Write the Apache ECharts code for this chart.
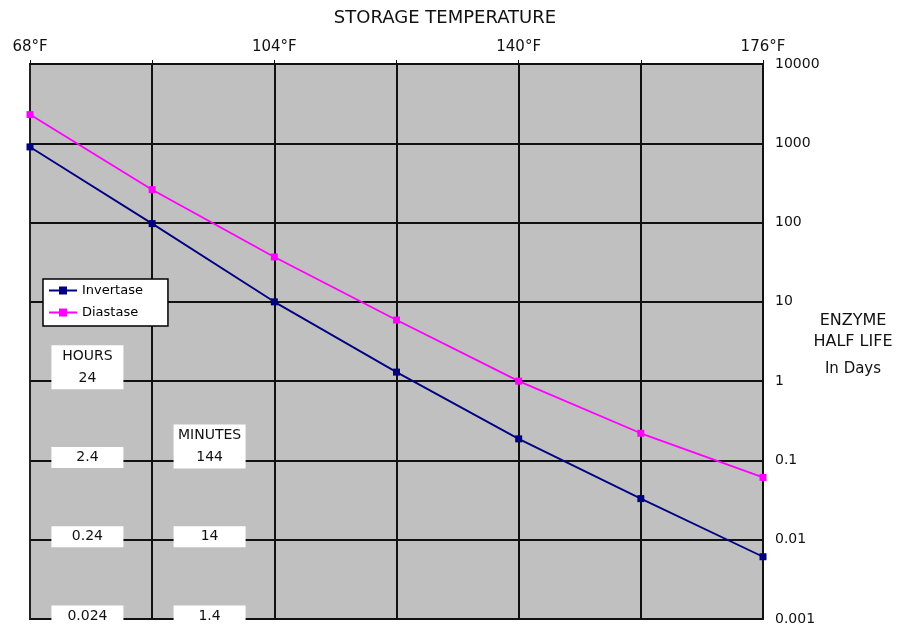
<!DOCTYPE html>
<html><head><meta charset="utf-8">
<script src="https://cdn.jsdelivr.net/npm/echarts@6/dist/echarts.min.js"></script>
<style>html,body{margin:0;padding:0;background:#fff}#c{width:907px;height:628px}</style>
</head><body><div id="c"></div>
<script>
// ---- data ----
const temperaturesF = [68, 86, 104, 122, 140, 158, 176];
const invertaseDays = [900, 97, 10, 1.3, 0.187, 0.033, 0.0061];
const diastaseDays = [2300, 260, 36.8, 5.9, 1.0, 0.22, 0.061];
const hoursLabels = ['HOURS\n24', '2.4', '0.24', '0.024'];
const hoursAtDays = [1, 0.1, 0.01, 0.001];
const minutesLabels = ['MINUTES\n144', '14', '1.4'];
const minutesAtDays = [0.1, 0.01, 0.001];
const annotationColumns = [0.47, 1.47]; // position in temperature steps

const FONT = 'DejaVu Sans';
const categories = temperaturesF.map(t => t + '°F');

function annot(col, labels, days) {
  return labels.map((txt, i) => {
    const lines = txt.split('\n').length;
    const lh = lines > 1 ? 22 : 21;
    return {
      name: txt,
      value: [col, days[i]],
      label: { lineHeight: lh, height: lh * lines, offset: [0, -3 - (lines - 1) * lh / 2] }
    };
  });
}
const annotData = annot(annotationColumns[0], hoursLabels, hoursAtDays)
  .concat(annot(annotationColumns[1], minutesLabels, minutesAtDays));

const chart = echarts.init(document.getElementById('c'));
chart.setOption({
  animation: false,
  backgroundColor: '#fff',
  textStyle: { fontFamily: FONT, color: '#000' },
  grid: { left: 30, right: 144, top: 64, bottom: 9, show: true, backgroundColor: '#c0c0c0', borderColor: '#222', borderWidth: 2 },
  legend: {
    data: ['Invertase', 'Diastase'], orient: 'vertical', left: 43, top: 279,
    itemWidth: 28, itemHeight: 10, itemGap: 9, padding: [5, 25, 7, 5],
    backgroundColor: '#fff', borderColor: '#000', borderWidth: 1.5,
    textStyle: { fontFamily: FONT, fontSize: 13, color: '#000' }
  },
  xAxis: [{
    type: 'category', data: categories, position: 'top', boundaryGap: false,
    axisLine: { show: true, lineStyle: { color: '#111', width: 2 } },
    axisTick: { show: true, interval: 0, length: 4, lineStyle: { color: '#111' } },
    axisLabel: { interval: 1, fontSize: 15, margin: 9, color: '#111', fontFamily: FONT },
    splitLine: { show: true, interval: 0, lineStyle: { color: '#111', width: 2 } }
  }, {
    type: 'value', min: 0, max: 6, show: false
  }],
  yAxis: {
    type: 'log', logBase: 10, min: 0.001, max: 10000, position: 'right',
    axisLine: { show: true, lineStyle: { color: '#222', width: 2 } },
    axisTick: { show: true, length: 4, lineStyle: { color: '#111' } },
    axisLabel: { fontSize: 14, margin: 12, color: '#111', fontFamily: FONT,
      formatter: v => String(+(+v).toPrecision(1)) },
    splitLine: { show: true, lineStyle: { color: '#111', width: 2 } }
  },
  graphic: [
    { type: 'text', x: 445, y: 18, silent: true, style: { text: 'STORAGE TEMPERATURE', font: '18px "DejaVu Sans"', fill: '#111', align: 'center', verticalAlign: 'middle' } },
    { type: 'text', x: 853, y: 321, silent: true, style: { text: 'ENZYME', font: '16px "DejaVu Sans"', fill: '#111', align: 'center', verticalAlign: 'middle' } },
    { type: 'text', x: 853, y: 342, silent: true, style: { text: 'HALF LIFE', font: '16px "DejaVu Sans"', fill: '#111', align: 'center', verticalAlign: 'middle' } },
    { type: 'text', x: 853, y: 369, silent: true, style: { text: 'In Days', font: '15px "DejaVu Sans"', fill: '#111', align: 'center', verticalAlign: 'middle' } }
  ],
  series: [{
    name: 'Invertase', type: 'line', data: invertaseDays, symbol: 'rect', symbolSize: 7,
    itemStyle: { color: '#000080' }, lineStyle: { color: '#000080', width: 1.8 }, z: 3
  }, {
    name: 'Diastase', type: 'line', data: diastaseDays, symbol: 'rect', symbolSize: 7,
    itemStyle: { color: '#ff00ff' }, lineStyle: { color: '#ff00ff', width: 1.8 }, z: 3
  }, {
    name: 'notes', type: 'scatter', xAxisIndex: 1, yAxisIndex: 0, data: annotData,
    symbolSize: 1, itemStyle: { color: 'rgba(0,0,0,0)', opacity: 1 }, silent: true, z: 10, clip: false,
    label: {
      show: true, position: 'inside', formatter: p => p.name, opacity: 1,
      backgroundColor: '#ffffff', width: 72, align: 'center', verticalAlign: 'middle',
      color: '#111', fontSize: 14, fontFamily: FONT
    }
  }]
});
</script></body></html>
